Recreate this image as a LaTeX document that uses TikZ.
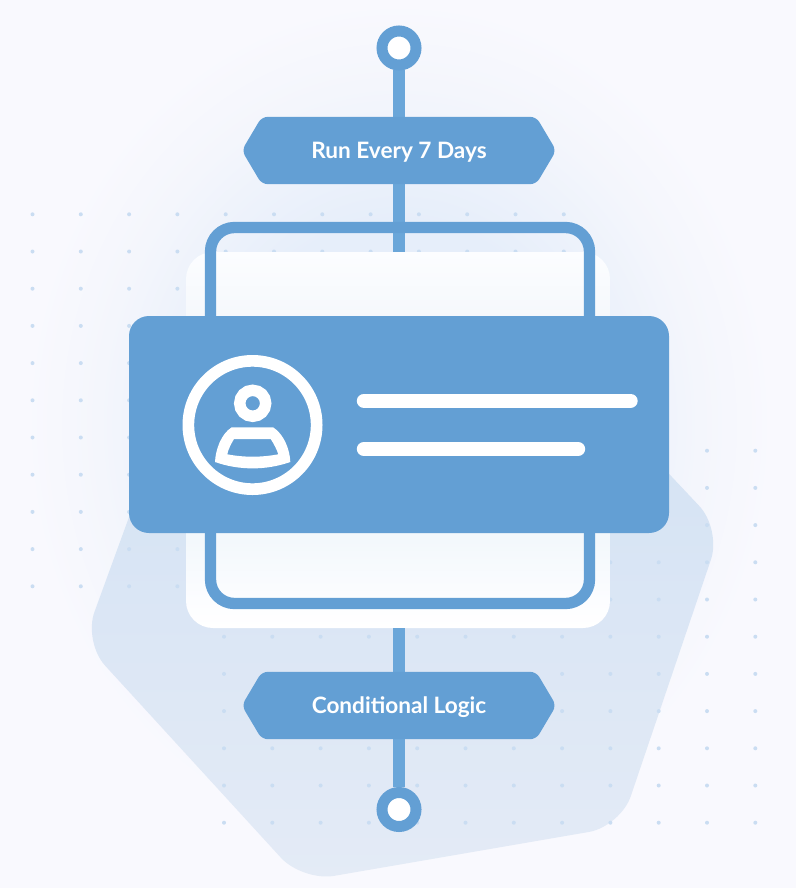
\documentclass[tikz,border=0pt]{standalone}
\usepackage{fontspec}
\setmainfont{Lato}
\usetikzlibrary{calc}
\definecolor{pagebg}{HTML}{F9F9FE}
\definecolor{mainblue}{HTML}{639FD4}
\definecolor{stemblue}{HTML}{6AA6D9}
\definecolor{dotblue}{HTML}{CADDF2}
\definecolor{blobtop}{HTML}{D5E3F4}
\definecolor{blobbot}{HTML}{E4EBF6}
\definecolor{glowa}{HTML}{E6EEFA}
\definecolor{glowb}{HTML}{EDF2FB}
\definecolor{glowc}{HTML}{F4F6FC}
\definecolor{cardb}{HTML}{F3F8FC}
\definecolor{cardc}{HTML}{F5F8FC}
\definecolor{cardt}{HTML}{FCFDFF}
\pgfdeclareradialshading{glowfade}{\pgfpoint{0bp}{0bp}}{
  color(0bp)=(glowa);
  color(12bp)=(glowa);
  color(16bp)=(glowb);
  color(20bp)=(glowc);
  color(25bp)=(pagebg);
  color(50bp)=(pagebg)}
\pgfdeclareverticalshading{cardfade}{100bp}{
  color(0bp)=(white);
  color(25bp)=(white);
  color(28.7bp)=(cardt);
  color(36.7bp)=(cardb);
  color(66bp)=(cardc);
  color(75bp)=(cardt);
  color(100bp)=(cardt)}
\pgfdeclarelayer{behind}
\pgfdeclarelayer{mid}
\pgfsetlayers{behind,mid,main}
\tikzset{
  x=1pt,y=-1pt,
  griddot/.style={circle,fill=dotblue,inner sep=0pt,minimum size=4pt},
  ringnode/.style={circle,draw=mainblue,line width=11pt,fill=white,inner sep=0pt,minimum size=34pt},
  banner/.style={text=white,font=\bfseries\fontsize{22.6}{26}\selectfont,
    minimum width=310pt,minimum height=67pt,inner sep=0pt},
  stem/.style={draw=stemblue,line width=11.3pt},
  barline/.style={draw=white,line width=14.4pt,line cap=round},
}
\newcommand\bannerfill[1]{\fill[mainblue,rounded corners=6pt]
  ($(#1.west)+(-2,0)$) -- ($(#1.north west)+(18,0)$) -- ($(#1.north east)+(-18,0)$)
  -- ($(#1.east)+(2,0)$) -- ($(#1.south east)+(-18,0)$) -- ($(#1.south west)+(18,0)$) -- cycle;}
\begin{document}
\begin{tikzpicture}
\useasboundingbox (0,0) rectangle (796,888);
\node[ringnode] (ringtop) at (399,48) {};
\node[ringnode] (ringbot) at (399,809.5) {};
\node[banner] (bantop) at (399,150.5) {\raisebox{-2pt}[\height][\depth]{Run Every 7 Days}};
\node[banner] (banbot) at (399,705.5) {\raisebox{-2pt}[\height][\depth]{Conditional Logic}};
\begin{pgfonlayer}{behind}
\fill[pagebg] (0,0) rectangle (796,888);
% soft glow
\shade[shading=glowfade] (399,425) ellipse [x radius=375,y radius=425];
% blob
\shade[top color=blobtop,bottom color=blobbot]
  (140,487) [rounded corners=32pt] -- (83.5,642) -- (302.5,881.3) -- (620.5,826.5) -- (721.2,529.3) -- (640,443) [sharp corners] -- cycle;
% dot grids
\foreach \i in {0,...,11}\foreach \j in {0,...,10}{
  \node[griddot] (du\i-\j) at ({32.5+48.3*\i},{214.3+37.2*\j}) {};
  \node[griddot] (dl\i-\j) at ({224+48.3*\i},{450.7+37.2*\j}) {};
}
% white card
\node[shade,shading=cardfade,rounded corners=27pt,minimum width=424pt,minimum height=376pt,inner sep=0pt] (card) at (398,440) {};
% stems
\draw[stem] (ringtop.south) -- (bantop.north);
\draw[stem] (bantop.south) -- (ringtop.south |- card.north);
\draw[stem] (ringbot.north |- card.south) -- (banbot.north);
\draw[stem] (banbot.south) -- (ringbot.north);
\end{pgfonlayer}
\begin{pgfonlayer}{mid}
\bannerfill{bantop}
\bannerfill{banbot}
\end{pgfonlayer}
% frame
\node[draw=mainblue,line width=11.3pt,rounded corners=24pt,minimum width=379pt,minimum height=376pt,inner sep=0pt] (frame) at (400,415.5) {};
% main card
\node[fill=mainblue,rounded corners=20pt,minimum width=540pt,minimum height=217pt,inner sep=0pt] (main) at (399,424.5) {};
% person icon
\node[circle,draw=white,line width=11.7pt,inner sep=0pt,minimum size=128.3pt] (avatar) at (252.5,425) {};
\node[circle,draw=white,line width=11.4pt,inner sep=0pt,minimum size=26pt] (head) at (252.7,403.3) {};
\fill[white,even odd rule]
  (231.7,427.3) -- (273,427.3) .. controls (284,434) and (290,450) .. (290.3,462)
  .. controls (266,470.5) and (239,470.5) .. (215,462)
  .. controls (215.5,450) and (221,434) .. cycle
  (234,439) -- (270.7,439) .. controls (274,444) and (277,450) .. (278.3,454.3)
  .. controls (261,457.5) and (244,457.5) .. (227.3,454.3)
  .. controls (228,450) and (231,444) .. cycle;
% text bars
\coordinate (b1a) at (364,400.8);\coordinate (b1b) at (630.5,400.8);
\coordinate (b2a) at (364,449);\coordinate (b2b) at (578,449);
\draw[barline] (b1a) -- (b1b);
\draw[barline] (b2a) -- (b2b);
\end{tikzpicture}
\end{document}
